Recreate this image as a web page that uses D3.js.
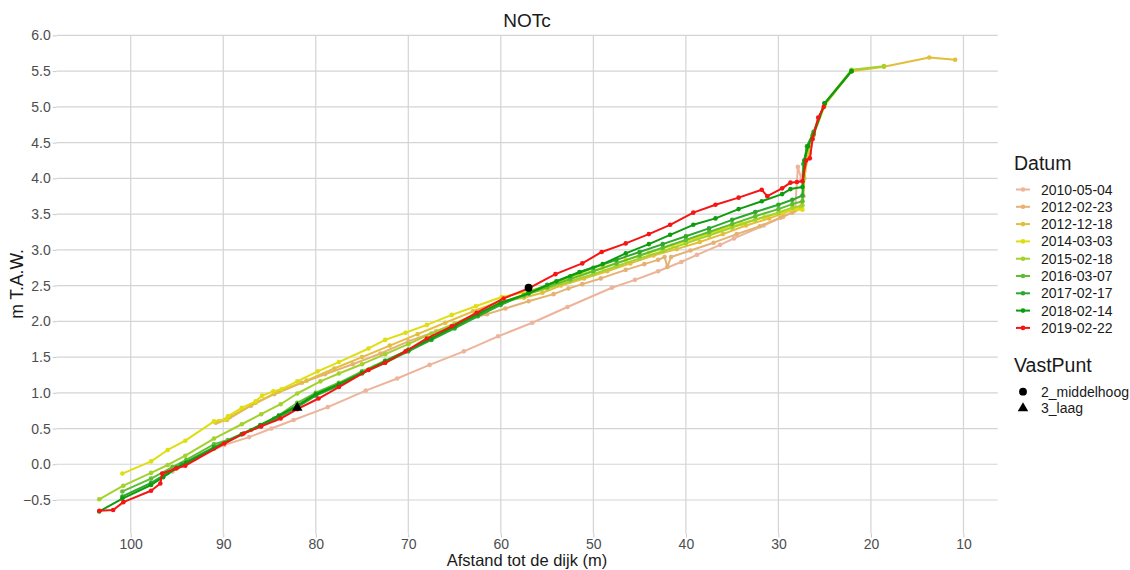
<!DOCTYPE html>
<html><head><meta charset="utf-8">
<script src="https://cdn.jsdelivr.net/npm/d3@7"></script>
<style>body{margin:0;background:#fff;font-family:"Liberation Sans",Arial,sans-serif;}</style>
</head><body><svg id="c" width="1130" height="570"></svg>
<script>
const dates = ["2010-05-04","2012-02-23","2012-12-18","2014-03-03","2015-02-18","2016-03-07","2017-02-17","2018-02-14","2019-02-22"];
const colors = ["#EDB49B","#E4B274","#E3BE3C","#DEDE12","#A3D22C","#5FBE30","#2DA82D","#0E9C0E","#F51515"];
const xTicks = [100,90,80,70,60,50,40,30,20,10];
const yTicks = [-0.5,0,0.5,1,1.5,2,2.5,3,3.5,4,4.5,5,5.5,6];
const vastLabels = ["2_middelhoog","3_laag"];
const vastPoints = [[57.0,2.47,"2_middelhoog"],[82.0,0.79,"3_laag"]];

const s2010 = [[95.5,-0.10],[93.0,0.08],[89.9,0.27],[87.2,0.38],[84.8,0.50],[82.4,0.62],[78.7,0.80],[74.6,1.03],[71.2,1.20],[67.7,1.39],[64.0,1.58],[60.3,1.79],[56.6,1.98],[52.8,2.20],[48.0,2.47],[45.5,2.58],[43.0,2.70],[40.5,2.83],[38.8,2.93],[36.3,3.07],[34.8,3.16],[31.6,3.34],[29.5,3.46],[28.2,3.55],[27.9,4.16],[27.5,3.98],[27.2,4.25]];
const s2012a = [[90.8,0.58],[89.6,0.62],[87.0,0.82],[84.5,0.98],[81.5,1.14],[79.0,1.26],[76.0,1.40],[73.0,1.55],[70.0,1.72],[67.0,1.86],[64.0,2.00],[61.5,2.10],[59.5,2.18],[57.0,2.28],[54.3,2.38],[52.7,2.46],[51.2,2.52],[49.2,2.60],[46.5,2.72],[44.5,2.80],[43.0,2.86],[42.3,2.90],[42.0,2.76],[41.6,2.90],[39.5,2.99],[37.0,3.10],[34.5,3.22],[32.0,3.33],[29.8,3.45],[28.5,3.52],[27.6,3.58],[27.3,3.75],[27.1,4.2],[26.6,4.35]];
const s2012b = [[90.5,0.60],[89.3,0.66],[86.5,0.86],[84.0,1.02],[81.0,1.17],[78.0,1.34],[75.0,1.50],[72.0,1.66],[69.0,1.82],[66.0,1.98],[63.0,2.14],[60.0,2.28],[57.5,2.33],[55.5,2.40],[53.5,2.50],[51.0,2.60],[48.5,2.70],[46.0,2.81],[43.5,2.92],[41.0,3.01],[38.5,3.11],[36.0,3.22],[33.5,3.34],[31.0,3.44],[29.5,3.51],[28.3,3.57],[27.5,3.62],[27.2,4.0],[26.8,4.35],[26.2,4.6],[25.0,5.02],[22.1,5.50],[18.6,5.56],[13.7,5.69],[10.9,5.66]];
const s2014 = [[100.9,-0.13],[97.8,0.04],[96.0,0.20],[94.1,0.33],[91.0,0.60],[89.7,0.63],[89.5,0.67],[88.0,0.79],[86.5,0.88],[85.8,0.96],[84.6,1.02],[83.7,1.05],[82.0,1.16],[79.8,1.30],[77.5,1.43],[74.3,1.62],[72.5,1.74],[70.3,1.84],[68.0,1.95],[65.3,2.09],[62.7,2.21],[59.9,2.34],[57.0,2.42],[54.5,2.52],[51.5,2.65],[49.0,2.75],[46.5,2.86],[44.0,2.96],[41.5,3.06],[39.0,3.16],[36.5,3.27],[34.0,3.37],[31.5,3.46],[29.5,3.53],[28.0,3.57],[27.4,3.56],[27.2,4.1],[26.9,4.44],[26.3,4.6],[25.0,5.02]];
const s2015 = [[103.4,-0.49],[100.8,-0.30],[97.8,-0.12],[96.0,-0.01],[94.1,0.12],[91.0,0.36],[88.0,0.56],[85.9,0.70],[83.8,0.84],[82.0,0.99],[79.5,1.16],[77.5,1.27],[75.0,1.40],[72.5,1.54],[70.0,1.68],[67.5,1.83],[65.0,1.97],[62.5,2.11],[60.0,2.26],[57.5,2.37],[55.0,2.46],[52.5,2.56],[50.0,2.66],[47.5,2.77],[45.0,2.88],[42.5,2.98],[40.0,3.09],[37.5,3.20],[35.0,3.31],[32.5,3.42],[30.0,3.52],[28.5,3.59],[27.4,3.62],[27.2,4.2],[26.9,4.4],[26.3,4.6],[25.0,5.05],[22.1,5.52],[18.6,5.57]];
const s2016 = [[100.9,-0.38],[97.8,-0.20],[95.5,-0.04],[94.0,0.06],[91.0,0.28],[89.5,0.34],[87.0,0.48],[84.5,0.64],[82.0,0.86],[80.0,1.00],[77.5,1.14],[75.0,1.30],[72.5,1.45],[70.0,1.60],[67.5,1.76],[65.0,1.92],[62.5,2.08],[60.0,2.24],[57.5,2.36],[55.0,2.48],[52.5,2.59],[50.0,2.70],[47.5,2.81],[45.0,2.92],[42.5,3.03],[40.0,3.14],[37.5,3.25],[35.0,3.36],[32.5,3.47],[30.0,3.57],[28.5,3.64],[27.4,3.68],[27.2,4.2],[26.9,4.45],[26.3,4.6],[25.0,5.05],[22.1,5.50]];
const s2017 = [[100.9,-0.45],[97.8,-0.26],[96.0,-0.12],[94.5,0.00],[91.0,0.24],[88.0,0.42],[86.0,0.53],[84.5,0.62],[82.0,0.80],[80.0,0.96],[77.5,1.10],[75.0,1.27],[72.5,1.42],[70.0,1.58],[67.5,1.74],[65.0,1.90],[62.5,2.07],[60.0,2.23],[57.0,2.40],[55.0,2.51],[52.5,2.63],[50.0,2.75],[47.5,2.86],[45.0,2.97],[42.5,3.08],[40.0,3.19],[37.5,3.30],[35.0,3.42],[32.5,3.53],[30.0,3.63],[28.5,3.70],[27.4,3.76],[27.3,4.2],[26.9,4.45],[26.2,4.65],[25.0,5.05],[22.1,5.50]];
const s2018 = [[103.4,-0.66],[100.9,-0.48],[97.8,-0.29],[96.5,-0.18],[95.0,-0.05],[94.0,0.02],[91.0,0.22],[88.0,0.42],[86.0,0.55],[84.0,0.68],[82.0,0.82],[80.0,0.98],[77.5,1.12],[75.0,1.28],[72.5,1.44],[70.0,1.60],[67.5,1.76],[65.0,1.93],[62.5,2.10],[60.0,2.26],[57.0,2.39],[54.0,2.56],[51.5,2.69],[49.0,2.80],[46.5,2.95],[44.0,3.08],[41.7,3.21],[39.2,3.35],[36.8,3.44],[34.3,3.57],[31.8,3.68],[29.6,3.78],[28.7,3.85],[27.4,3.88],[27.2,4.25],[26.8,4.45],[26.2,4.62],[25.0,5.05],[22.1,5.50]];
const s2019 = [[103.4,-0.65],[101.9,-0.64],[100.8,-0.53],[97.8,-0.37],[96.8,-0.27],[96.6,-0.13],[95.1,-0.06],[94.1,-0.02],[89.9,0.29],[87.8,0.43],[85.9,0.53],[83.8,0.64],[82.0,0.77],[79.7,0.92],[77.5,1.08],[74.3,1.32],[72.5,1.42],[70.3,1.58],[68.0,1.76],[65.3,1.93],[62.6,2.12],[59.7,2.32],[57.0,2.46],[54.1,2.66],[51.2,2.81],[49.1,2.97],[46.5,3.09],[44.0,3.22],[41.7,3.35],[39.2,3.52],[36.8,3.63],[34.3,3.73],[31.8,3.84],[31.2,3.75],[29.6,3.86],[28.7,3.94],[28.0,3.95],[27.4,3.96],[27.0,4.25],[26.6,4.28],[26.3,4.55],[25.7,4.85],[25.1,5.00]];
const seriesValues = [s2010,s2012a,s2012b,s2014,s2015,s2016,s2017,s2018,s2019];

const svg = d3.select("#c");
const x = d3.scaleLinear().domain([108.0, 6.3]).range([56.7, 997.7]);
const y = d3.scaleLinear().domain([-0.97, 6.0]).range([533.6, 35.4]);
const font = '"Liberation Sans",Arial,sans-serif';

// grid
const g = svg.append("g");
g.selectAll(".vg").data(xTicks).join("line")
  .attr("x1", d=>x(d)).attr("x2", d=>x(d)).attr("y1", y(6.0)).attr("y2", y(-0.97))
  .attr("stroke", "#d4d4d4").attr("stroke-width", 1.2);
g.selectAll(".hg").data(yTicks).join("line")
  .attr("x1", x(108)).attr("x2", x(6.3)).attr("y1", d=>y(d)).attr("y2", d=>y(d))
  .attr("stroke", "#d4d4d4").attr("stroke-width", 1.2);

// axes
const ax = svg.append("g").attr("transform", `translate(0,${y(-0.97)})`)
  .call(d3.axisBottom(x).tickValues(xTicks).tickSize(4).tickPadding(1).tickFormat(d3.format("d")));
const ay = svg.append("g").attr("transform", `translate(${x(108)},0)`)
  .call(d3.axisLeft(y).tickValues(yTicks).tickSize(4).tickPadding(2).tickFormat(d3.format(".1f")));
[ax, ay].forEach(a => {
  a.select(".domain").remove();
  a.selectAll(".tick line").attr("stroke", "#c8c8c8");
  a.selectAll(".tick text").attr("fill", "#4d4d4d").style("font-family", font).style("font-size", "14px");
});

// lines and points
const line = d3.line().x(d=>x(d[0])).y(d=>y(d[1]));
const pg = svg.append("g");
seriesValues.forEach((vals, i) => {
  pg.append("path").datum(vals).attr("d", line).attr("fill", "none")
    .attr("stroke", colors[i]).attr("stroke-width", 2).attr("stroke-linejoin", "round");
  pg.selectAll(null).data(vals).join("circle")
    .attr("cx", d=>x(d[0])).attr("cy", d=>y(d[1])).attr("r", 2.3).attr("fill", colors[i]);
});

// fixed points
const sym = d3.symbol().size(48);
svg.append("g").selectAll("path").data(vastPoints).join("path")
  .attr("transform", d=>`translate(${x(d[0])},${y(d[1])})`)
  .attr("d", d => sym.type(d[2]==="3_laag" ? d3.symbolTriangle : d3.symbolCircle)())
  .attr("fill", "#000");

// titles
svg.append("text").attr("x", 527).attr("y", 27).attr("text-anchor", "middle")
  .style("font-family", font).style("font-size", "19px").attr("fill", "#1a1a1a").text("NOTc");
svg.append("text").attr("x", 527).attr("y", 565.5).attr("text-anchor", "middle")
  .style("font-family", font).style("font-size", "16.5px").attr("fill", "#1a1a1a").text("Afstand tot de dijk (m)");
svg.append("text").attr("transform", "translate(23,284) rotate(-90)").attr("text-anchor", "middle")
  .style("font-family", font).style("font-size", "17.5px").attr("fill", "#1a1a1a").text("m T.A.W.");

// legend
const lg = svg.append("g");
lg.append("text").attr("x", 1014).attr("y", 170).style("font-family", font).style("font-size", "19.5px").attr("fill", "#1a1a1a").text("Datum");
dates.forEach((d, i) => {
  const yy = 189.5 + i * 17.3;
  lg.append("line").attr("x1", 1016).attr("x2", 1030).attr("y1", yy).attr("y2", yy).attr("stroke", colors[i]).attr("stroke-width", 2);
  lg.append("circle").attr("cx", 1023).attr("cy", yy).attr("r", 2.3).attr("fill", colors[i]);
  lg.append("text").attr("x", 1041).attr("y", yy + 5).style("font-family", font).style("font-size", "14px").attr("fill", "#1a1a1a").text(d);
});
lg.append("text").attr("x", 1014).attr("y", 372).style("font-family", font).style("font-size", "19.5px").attr("fill", "#1a1a1a").text("VastPunt");
vastLabels.forEach((d, i) => {
  const yy = 391.7 + i * 16.6;
  lg.append("path").attr("transform", `translate(1023,${yy})`)
    .attr("d", sym.type(i === 1 ? d3.symbolTriangle : d3.symbolCircle)()).attr("fill", "#000");
  lg.append("text").attr("x", 1041).attr("y", yy + 5).style("font-family", font).style("font-size", "14px").attr("fill", "#1a1a1a").text(d);
});
</script></body></html>
